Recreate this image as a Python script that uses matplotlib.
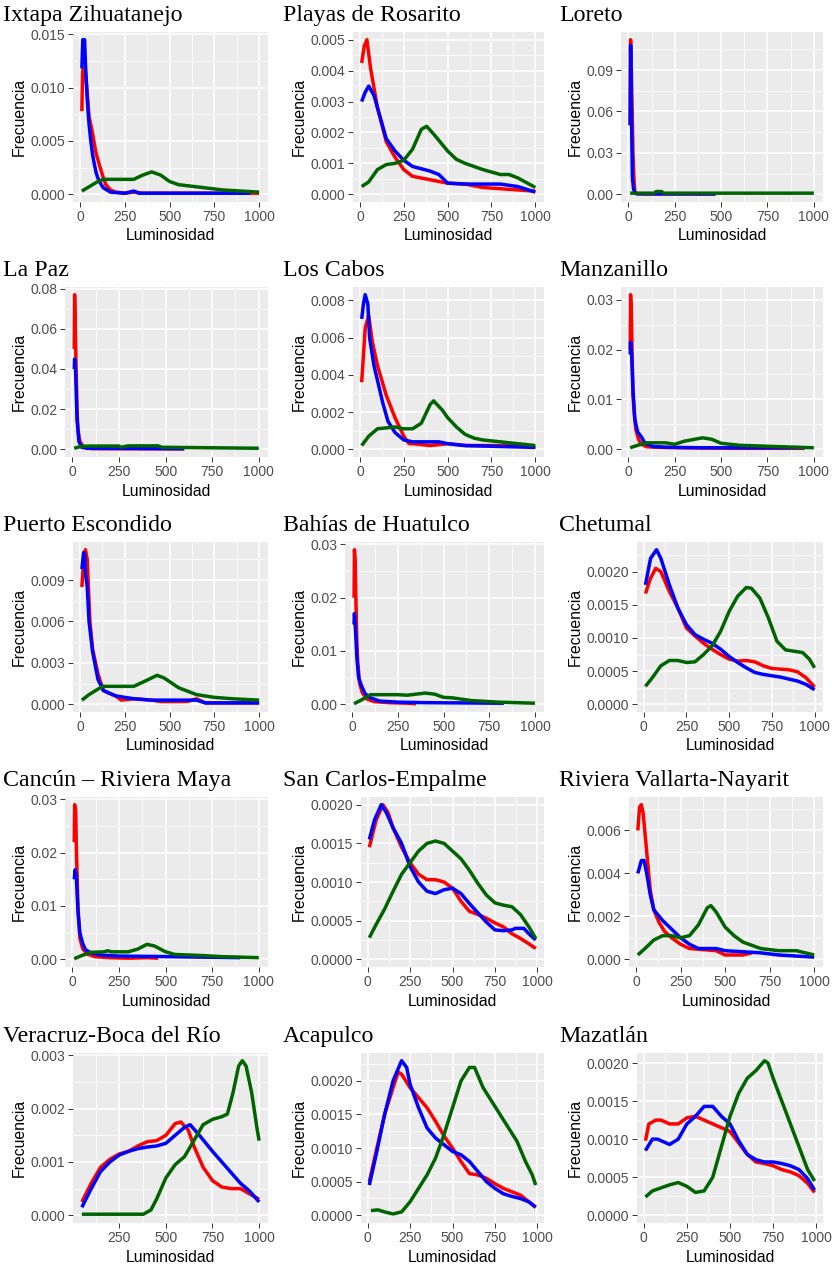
import matplotlib
matplotlib.use("Agg")
import matplotlib.pyplot as plt
from matplotlib.ticker import FixedLocator, MultipleLocator

# --- data (x = Luminosidad, y = Frecuencia) ---
ixtapa_red = [(10, 0.0078), (14, 0.0115), (18, 0.0118), (30, 0.0115), (40, 0.0095), (50, 0.0073), (60, 0.0065),
              (70, 0.0057), (80, 0.0047), (90, 0.0038), (107, 0.0028), (125, 0.0018), (144, 0.0009), (170, 0.0004),
              (200, 0.0002), (250, 0.0001), (300, 0.0002), (350, 0.0001), (500, 0.0001), (750, 0.0001), (1000, 0.0001)]
ixtapa_blue = [(10, 0.0118), (15, 0.0145), (25, 0.0145), (32, 0.0115), (40, 0.0089), (50, 0.0066), (60, 0.0050),
               (70, 0.0037), (80, 0.0028), (90, 0.0020), (100, 0.0015), (115, 0.0010), (130, 0.0006), (170, 0.0002),
               (250, 0.0001), (300, 0.0003), (330, 0.0001), (500, 0.0001), (750, 0.0001), (950, 0.0001)]
ixtapa_green = [(10, 0.0003), (50, 0.0007), (100, 0.0012), (130, 0.0014), (200, 0.0014), (300, 0.0014),
                (350, 0.0018), (400, 0.0021), (450, 0.0018), (500, 0.0012), (550, 0.0009), (600, 0.0008),
                (700, 0.0006), (800, 0.0004), (900, 0.0003), (1000, 0.0002)]

playas_red = [(10, 0.00425), (25, 0.0048), (40, 0.0050), (60, 0.0041), (100, 0.0028), (150, 0.0017), (200, 0.0012),
              (250, 0.0008), (300, 0.00058), (400, 0.00047), (500, 0.00036), (600, 0.00033), (700, 0.00022),
              (800, 0.00018), (900, 0.00014), (1000, 0.0001)]
playas_blue = [(10, 0.0030), (30, 0.0033), (50, 0.0035), (80, 0.0032), (100, 0.0028), (150, 0.0018), (200, 0.0014),
               (250, 0.0011), (300, 0.0009), (400, 0.00075), (450, 0.00064), (500, 0.00036), (600, 0.00033),
               (800, 0.00033), (900, 0.00025), (1000, 0.00007)]
playas_green = [(10, 0.00025), (50, 0.0004), (100, 0.0008), (150, 0.00096), (200, 0.0010), (250, 0.0011),
                (300, 0.00146), (350, 0.0021), (380, 0.0022), (420, 0.00195), (500, 0.0014), (550, 0.00113),
                (600, 0.0010), (700, 0.0008), (800, 0.00064), (850, 0.00064), (900, 0.00053), (1000, 0.00022)]

loreto_red = [(10, 0.050), (12, 0.112), (15, 0.100), (20, 0.064), (25, 0.030), (30, 0.012), (35, 0.002),
              (40, 0.0005), (100, 0.0003), (470, 0.0003)]
loreto_blue = [(10, 0.050), (12, 0.108), (18, 0.050), (22, 0.012), (28, 0.004), (35, 0.001), (50, 0.0003),
               (470, 0.0002)]
loreto_green = [(10, 0.0008), (140, 0.0008), (150, 0.002), (180, 0.002), (190, 0.0008), (1000, 0.0008)]

lapaz_red = [(10, 0.050), (12, 0.077), (16, 0.060), (20, 0.040), (25, 0.020), (30, 0.010), (40, 0.004),
             (60, 0.001), (100, 0.0003), (600, 0.0002)]
lapaz_blue = [(10, 0.040), (12, 0.045), (18, 0.038), (25, 0.015), (35, 0.004), (50, 0.001), (80, 0.0005),
              (600, 0.0003)]
lapaz_green = [(10, 0.0005), (50, 0.0015), (100, 0.0016), (250, 0.0016), (260, 0.0010), (300, 0.0017),
               (460, 0.0017), (480, 0.0010), (1000, 0.0005)]

cabos_red = [(10, 0.0036), (30, 0.0065), (50, 0.0072), (70, 0.0058), (100, 0.0045), (150, 0.0029), (200, 0.0017),
             (250, 0.0007), (280, 0.0003), (300, 0.0003), (400, 0.0002), (500, 0.0003), (600, 0.0002),
             (900, 0.0002), (1000, 0.0001)]
cabos_blue = [(10, 0.0070), (20, 0.0078), (30, 0.0083), (45, 0.0078), (55, 0.0060), (80, 0.0045), (100, 0.0037),
              (130, 0.0025), (160, 0.0015), (200, 0.0009), (250, 0.0005), (300, 0.0004), (450, 0.0004),
              (500, 0.0003), (600, 0.0002), (1000, 0.0001)]
cabos_green = [(10, 0.0002), (50, 0.0007), (100, 0.0011), (200, 0.0012), (250, 0.0011), (300, 0.0011),
               (350, 0.0014), (400, 0.0024), (420, 0.0026), (470, 0.0021), (500, 0.0017), (550, 0.0012),
               (600, 0.0008), (650, 0.0006), (700, 0.0005), (800, 0.0004), (900, 0.0003), (1000, 0.0002)]

manz_red = [(10, 0.020), (12, 0.031), (16, 0.028), (20, 0.020), (25, 0.011), (30, 0.008), (40, 0.004),
            (55, 0.002), (70, 0.001), (100, 0.0005), (150, 0.0004), (300, 0.0003), (600, 0.0002), (950, 0.0002)]
manz_blue = [(10, 0.019), (12, 0.0215), (18, 0.019), (25, 0.012), (35, 0.006), (50, 0.0035), (70, 0.0025),
             (90, 0.0012), (130, 0.0006), (200, 0.0004), (400, 0.0003), (950, 0.0003)]
manz_green = [(10, 0.0003), (50, 0.0008), (100, 0.0013), (200, 0.0013), (250, 0.0010), (300, 0.0016),
              (400, 0.0023), (450, 0.0020), (500, 0.0012), (600, 0.0008), (750, 0.0006), (1000, 0.0003)]

puerto_red = [(10, 0.0085), (20, 0.0105), (30, 0.0112), (40, 0.0105), (55, 0.0060), (70, 0.0040), (100, 0.0022),
              (130, 0.0010), (160, 0.0008), (200, 0.0006), (230, 0.0003), (300, 0.0004), (400, 0.0003),
              (450, 0.0002), (600, 0.0002), (650, 0.0004), (700, 0.0001), (1000, 0.0001)]
puerto_blue = [(10, 0.0098), (20, 0.0110), (25, 0.0108), (30, 0.0095), (40, 0.0085), (50, 0.0060), (70, 0.0038),
               (100, 0.0018), (130, 0.0010), (200, 0.0006), (300, 0.0004), (400, 0.0003), (650, 0.0003),
               (700, 0.0001), (1000, 0.0001)]
puerto_green = [(10, 0.0003), (50, 0.0007), (100, 0.0011), (130, 0.0013), (300, 0.0013), (350, 0.0016),
                (430, 0.0021), (470, 0.0019), (550, 0.0012), (650, 0.0007), (750, 0.0005), (850, 0.0004),
                (1000, 0.0003)]

huatulco_red = [(10, 0.020), (12, 0.029), (16, 0.027), (20, 0.020), (25, 0.012), (30, 0.008), (40, 0.004),
                (55, 0.0022), (80, 0.0010), (120, 0.0005), (200, 0.0003), (300, 0.0002), (350, 0.0001)]
huatulco_blue = [(10, 0.015), (12, 0.017), (18, 0.014), (25, 0.009), (35, 0.005), (50, 0.0035), (70, 0.0020),
                 (100, 0.0012), (150, 0.0006), (250, 0.0004), (400, 0.0003), (830, 0.0002)]
huatulco_green = [(10, 0.0001), (50, 0.0008), (100, 0.0018), (250, 0.0018), (300, 0.0017), (400, 0.0021),
                  (450, 0.0019), (500, 0.0013), (550, 0.0012), (650, 0.0007), (800, 0.0004), (1000, 0.0002)]

chetumal_red = [(10, 0.00167), (40, 0.0019), (70, 0.00205), (100, 0.0020), (150, 0.0017), (200, 0.00145),
                (250, 0.00115), (300, 0.00103), (350, 0.00092), (400, 0.00083), (450, 0.00075), (500, 0.00068),
                (550, 0.00065), (600, 0.00066), (650, 0.00064), (700, 0.00058), (750, 0.00054), (800, 0.00053),
                (850, 0.00052), (900, 0.00049), (950, 0.0004), (1000, 0.00026)]
chetumal_blue = [(10, 0.0018), (40, 0.0022), (75, 0.00233), (100, 0.0022), (150, 0.0018), (200, 0.00145),
                 (250, 0.0012), (300, 0.00105), (350, 0.00098), (400, 0.00092), (450, 0.00083), (500, 0.00072),
                 (550, 0.00063), (600, 0.00055), (650, 0.00048), (700, 0.00045), (800, 0.00041), (900, 0.00035),
                 (950, 0.0003), (1000, 0.00022)]
chetumal_green = [(10, 0.00027), (50, 0.0004), (100, 0.00058), (150, 0.00066), (200, 0.00066), (250, 0.00063),
                  (300, 0.00064), (350, 0.00075), (400, 0.00088), (450, 0.0011), (500, 0.0014), (550, 0.00163),
                  (600, 0.00176), (630, 0.00175), (680, 0.0016), (730, 0.0013), (780, 0.00095), (830, 0.00082),
                  (880, 0.0008), (930, 0.00078), (970, 0.00068), (1000, 0.00055)]

cancun_red = [(10, 0.022), (12, 0.029), (18, 0.028), (22, 0.020), (30, 0.010), (40, 0.004), (55, 0.002),
              (80, 0.001), (120, 0.0005), (200, 0.0003), (300, 0.0002), (400, 0.0003), (460, 0.0002)]
cancun_blue = [(10, 0.015), (15, 0.0168), (22, 0.015), (30, 0.009), (40, 0.005), (55, 0.003), (70, 0.0018),
               (100, 0.0012), (150, 0.0008), (250, 0.0006), (500, 0.0005), (700, 0.0004), (900, 0.0003)]
cancun_green = [(10, 0.0001), (50, 0.0007), (100, 0.0013), (170, 0.0014), (190, 0.0016), (210, 0.0014),
                (300, 0.0014), (350, 0.0019), (400, 0.0028), (440, 0.0025), (500, 0.0014), (550, 0.0009),
                (700, 0.0007), (800, 0.0005), (1000, 0.0003)]

sancarlos_red = [(10, 0.00145), (50, 0.0018), (90, 0.0020), (120, 0.0019), (150, 0.0017), (200, 0.00145),
                 (250, 0.00125), (300, 0.0011), (350, 0.00103), (400, 0.00103), (450, 0.0010), (500, 0.00092),
                 (550, 0.00075), (600, 0.00062), (650, 0.00058), (700, 0.00053), (750, 0.00047), (800, 0.00042),
                 (850, 0.00033), (900, 0.00027), (950, 0.0002), (990, 0.00014)]
sancarlos_blue = [(10, 0.00155), (40, 0.0018), (80, 0.0020), (110, 0.0019), (150, 0.0017), (200, 0.0015),
                  (250, 0.0012), (300, 0.0010), (350, 0.00088), (400, 0.00085), (450, 0.0009), (500, 0.00092),
                  (550, 0.00085), (600, 0.00072), (650, 0.0006), (700, 0.00048), (750, 0.00038), (800, 0.00037),
                  (850, 0.00038), (870, 0.0004), (920, 0.0004), (950, 0.00033), (990, 0.00025)]
sancarlos_green = [(10, 0.00028), (50, 0.00045), (100, 0.00065), (150, 0.00088), (200, 0.0011), (250, 0.00125),
                   (300, 0.0014), (350, 0.0015), (400, 0.00153), (450, 0.0015), (500, 0.0014), (550, 0.0013),
                   (600, 0.00115), (650, 0.00098), (700, 0.00083), (750, 0.00073), (800, 0.0007), (850, 0.00068),
                   (900, 0.00058), (950, 0.00042), (990, 0.00027)]

vallarta_red = [(10, 0.0060), (20, 0.0071), (30, 0.0072), (40, 0.0068), (60, 0.0050), (80, 0.0032), (100, 0.0023),
                (130, 0.0017), (160, 0.0013), (200, 0.0010), (250, 0.0007), (300, 0.0005), (450, 0.0004),
                (500, 0.0002), (600, 0.0002), (650, 0.0003)]
vallarta_blue = [(10, 0.0040), (30, 0.0046), (45, 0.0046), (60, 0.0040), (80, 0.0030), (100, 0.0023),
                 (150, 0.0018), (200, 0.0014), (250, 0.0010), (300, 0.0007), (350, 0.0005), (450, 0.0005),
                 (500, 0.0004), (700, 0.0003), (800, 0.0002), (1000, 0.0001)]
vallarta_green = [(10, 0.0002), (50, 0.0005), (100, 0.0009), (150, 0.0011), (200, 0.0011), (250, 0.0010),
                  (300, 0.0011), (350, 0.0016), (400, 0.0024), (420, 0.0025), (450, 0.0022), (500, 0.0015),
                  (550, 0.0011), (600, 0.0008), (700, 0.0005), (800, 0.0004), (900, 0.0004), (1000, 0.0002)]

veracruz_red = [(50, 0.00025), (100, 0.0006), (150, 0.0009), (200, 0.00105), (250, 0.00115), (300, 0.0012),
                (350, 0.0013), (400, 0.00138), (450, 0.0014), (500, 0.0015), (550, 0.00172), (580, 0.00175),
                (620, 0.0016), (650, 0.0013), (700, 0.0009), (750, 0.00065), (800, 0.00053), (850, 0.0005),
                (900, 0.0005), (950, 0.0004), (1000, 0.0003)]
veracruz_blue = [(50, 0.00015), (100, 0.0005), (150, 0.00082), (200, 0.0010), (250, 0.00113), (300, 0.0012),
                 (350, 0.00125), (400, 0.00128), (450, 0.0013), (500, 0.00135), (550, 0.0015), (600, 0.00165),
                 (630, 0.0017), (680, 0.0015), (750, 0.0012), (800, 0.0010), (850, 0.0008), (900, 0.0006),
                 (950, 0.00045), (1000, 0.00025)]
veracruz_green = [(50, 0.00002), (380, 0.00002), (420, 0.0001), (450, 0.0003), (500, 0.0007), (550, 0.00095),
                  (600, 0.0011), (650, 0.0014), (700, 0.0017), (750, 0.0018), (800, 0.00185), (830, 0.0019),
                  (860, 0.0023), (890, 0.0028), (910, 0.0029), (930, 0.0028), (960, 0.0023), (990, 0.0016),
                  (1000, 0.0014)]

acapulco_red = [(10, 0.0005), (50, 0.00095), (100, 0.0015), (150, 0.0019), (180, 0.00213), (200, 0.0021),
                (250, 0.0019), (300, 0.00175), (350, 0.0016), (400, 0.0014), (450, 0.00118), (500, 0.0010),
                (550, 0.0008), (600, 0.00062), (650, 0.0006), (700, 0.00055), (750, 0.00047), (800, 0.0004),
                (850, 0.00035), (900, 0.0003), (950, 0.0002), (990, 0.00012)]
acapulco_blue = [(10, 0.00045), (50, 0.0009), (100, 0.0015), (150, 0.0020), (200, 0.0023), (230, 0.0022),
                 (250, 0.00195), (300, 0.0016), (350, 0.0013), (400, 0.00115), (450, 0.00105), (500, 0.00095),
                 (550, 0.0009), (600, 0.0008), (650, 0.00065), (700, 0.0005), (750, 0.0004), (800, 0.00032),
                 (850, 0.00028), (900, 0.00025), (950, 0.0002), (990, 0.00012)]
acapulco_green = [(20, 0.00007), (60, 0.00008), (100, 0.00005), (150, 0.00002), (200, 0.00005), (250, 0.0002),
                  (300, 0.0004), (350, 0.0006), (400, 0.00085), (450, 0.0012), (500, 0.0016), (550, 0.0020),
                  (600, 0.0022), (630, 0.0022), (680, 0.0019), (730, 0.0017), (780, 0.0015), (830, 0.0013),
                  (880, 0.0011), (930, 0.0008), (970, 0.0006), (990, 0.00045)]

mazatlan_red = [(10, 0.00098), (30, 0.0012), (70, 0.00125), (100, 0.00125), (150, 0.0012), (200, 0.0012),
                (250, 0.00128), (300, 0.0013), (350, 0.00125), (400, 0.0012), (450, 0.00115), (500, 0.0011),
                (550, 0.00095), (600, 0.0008), (650, 0.0007), (700, 0.00068), (750, 0.00065), (800, 0.0006),
                (850, 0.00057), (900, 0.00052), (950, 0.00042), (990, 0.0003)]
mazatlan_blue = [(10, 0.00085), (50, 0.0010), (80, 0.0010), (150, 0.00093), (200, 0.0010), (250, 0.0012),
                 (300, 0.0013), (350, 0.00143), (400, 0.00143), (450, 0.0013), (500, 0.0012), (550, 0.00098),
                 (600, 0.0008), (650, 0.00073), (700, 0.0007), (750, 0.0007), (800, 0.00068), (850, 0.00065),
                 (900, 0.0006), (950, 0.00048), (990, 0.00033)]
mazatlan_green = [(10, 0.00024), (50, 0.00032), (100, 0.00036), (150, 0.0004), (200, 0.00043), (250, 0.00038),
                  (300, 0.0003), (350, 0.00032), (400, 0.0005), (450, 0.0009), (500, 0.0013), (550, 0.0016),
                  (600, 0.0018), (650, 0.0019), (700, 0.00203), (720, 0.0020), (750, 0.0018), (800, 0.0015),
                  (850, 0.0012), (900, 0.0009), (950, 0.0006), (990, 0.00045)]

titles = ["Ixtapa Zihuatanejo", "Playas de Rosarito", "Loreto",
          "La Paz", "Los Cabos", "Manzanillo",
          "Puerto Escondido", "Bahías de Huatulco", "Chetumal",
          "Cancún – Riviera Maya", "San Carlos-Empalme", "Riviera Vallarta-Nayarit",
          "Veracruz-Boca del Río", "Acapulco", "Mazatlán"]

series = [(ixtapa_red, ixtapa_blue, ixtapa_green), (playas_red, playas_blue, playas_green),
          (loreto_red, loreto_blue, loreto_green), (lapaz_red, lapaz_blue, lapaz_green),
          (cabos_red, cabos_blue, cabos_green), (manz_red, manz_blue, manz_green),
          (puerto_red, puerto_blue, puerto_green), (huatulco_red, huatulco_blue, huatulco_green),
          (chetumal_red, chetumal_blue, chetumal_green), (cancun_red, cancun_blue, cancun_green),
          (sancarlos_red, sancarlos_blue, sancarlos_green), (vallarta_red, vallarta_blue, vallarta_green),
          (veracruz_red, veracruz_blue, veracruz_green), (acapulco_red, acapulco_blue, acapulco_green),
          (mazatlan_red, mazatlan_blue, mazatlan_green)]

y_ticks = [[0, 0.005, 0.010, 0.015], [0, 0.001, 0.002, 0.003, 0.004, 0.005], [0, 0.03, 0.06, 0.09],
           [0, 0.02, 0.04, 0.06, 0.08], [0, 0.002, 0.004, 0.006, 0.008], [0, 0.01, 0.02, 0.03],
           [0, 0.003, 0.006, 0.009], [0, 0.01, 0.02, 0.03], [0, 0.0005, 0.0010, 0.0015, 0.0020],
           [0, 0.01, 0.02, 0.03], [0, 0.0005, 0.0010, 0.0015, 0.0020], [0, 0.002, 0.004, 0.006],
           [0, 0.001, 0.002, 0.003], [0, 0.0005, 0.0010, 0.0015, 0.0020], [0, 0.0005, 0.0010, 0.0015, 0.0020]]
y_decimals = [3, 3, 2, 2, 3, 2, 3, 2, 4, 2, 4, 3, 3, 4, 4]
x_ticks = [0, 250, 500, 750, 1000]

line_colors = ["#FF0000", "#0000FF", "#006400"]

# --- layout in pixels ---
W, H = 834, 1264
col_start = [0, 280, 556]
col_right = [268, 544, 823]
row_top = [32, 287, 542, 797, 1053]
panel_h = 170

plt.rcParams['font.family'] = ['Liberation Sans', 'DejaVu Sans']
fig = plt.figure(figsize=(W / 100, H / 100), dpi=100)


def fx(x):
    return x / W


def fy(y):
    return 1 - y / H


for i, title in enumerate(titles):
    r, c = divmod(i, 3)
    ticks = y_ticks[i]
    labels = [f"{t:.{y_decimals[i]}f}" for t in ticks]
    left = col_start[c] + 33 + 8 * len(labels[-1])
    right = col_right[c]
    top = row_top[r]
    bottom = top + panel_h

    ax = fig.add_axes([fx(left), fy(bottom), (right - left) / W, panel_h / H])
    ax.set_facecolor("#EBEBEB")
    ax.set_axisbelow(True)

    all_x, all_y = [], []
    for data, col in zip(series[i], line_colors):
        xs = [p[0] for p in data]
        ys = [p[1] for p in data]
        all_x += xs
        all_y += ys
        ax.plot(xs, ys, color=col, lw=2.5, solid_joinstyle="round", solid_capstyle="butt")

    xmin, xmax = min(all_x), max(all_x)
    xr = xmax - xmin
    ax.set_xlim(xmin - 0.05 * xr, xmax + 0.05 * xr)
    ymax = max(all_y)
    ax.set_ylim(-0.05 * ymax, 1.05 * ymax)

    xt = [t for t in x_ticks if xmin - 0.05 * xr <= t <= xmax + 0.05 * xr]
    ax.xaxis.set_major_locator(FixedLocator(xt))
    ax.xaxis.set_minor_locator(MultipleLocator(125))
    ax.yaxis.set_major_locator(FixedLocator(ticks))
    ax.yaxis.set_minor_locator(MultipleLocator((ticks[1] - ticks[0]) / 2))
    ax.set_xticklabels([str(t) for t in xt])
    ax.set_yticklabels(labels)

    ax.grid(which="major", color="white", lw=1.1)
    ax.grid(which="minor", color="white", lw=0.55)
    ax.tick_params(which="major", length=3.5, width=0.7, color="#333333",
                   labelcolor="#4D4D4D", labelsize=10, pad=2)
    ax.tick_params(which="minor", length=0)
    for s in ax.spines.values():
        s.set_visible(False)

    fig.text(fx(col_start[c] + 3), fy(top - 11), title, fontsize=17.2,
             family="Liberation Serif", va="baseline", ha="left")
    fig.text(fx((left + right) / 2), fy(bottom + 34), "Luminosidad", fontsize=11.3,
             ha="center", va="center")
    fig.text(fx(col_start[c] + 19), fy(top + panel_h / 2), "Frecuencia", fontsize=11.3,
             rotation=90, ha="center", va="center")

fig.savefig("out.png", dpi=100)
